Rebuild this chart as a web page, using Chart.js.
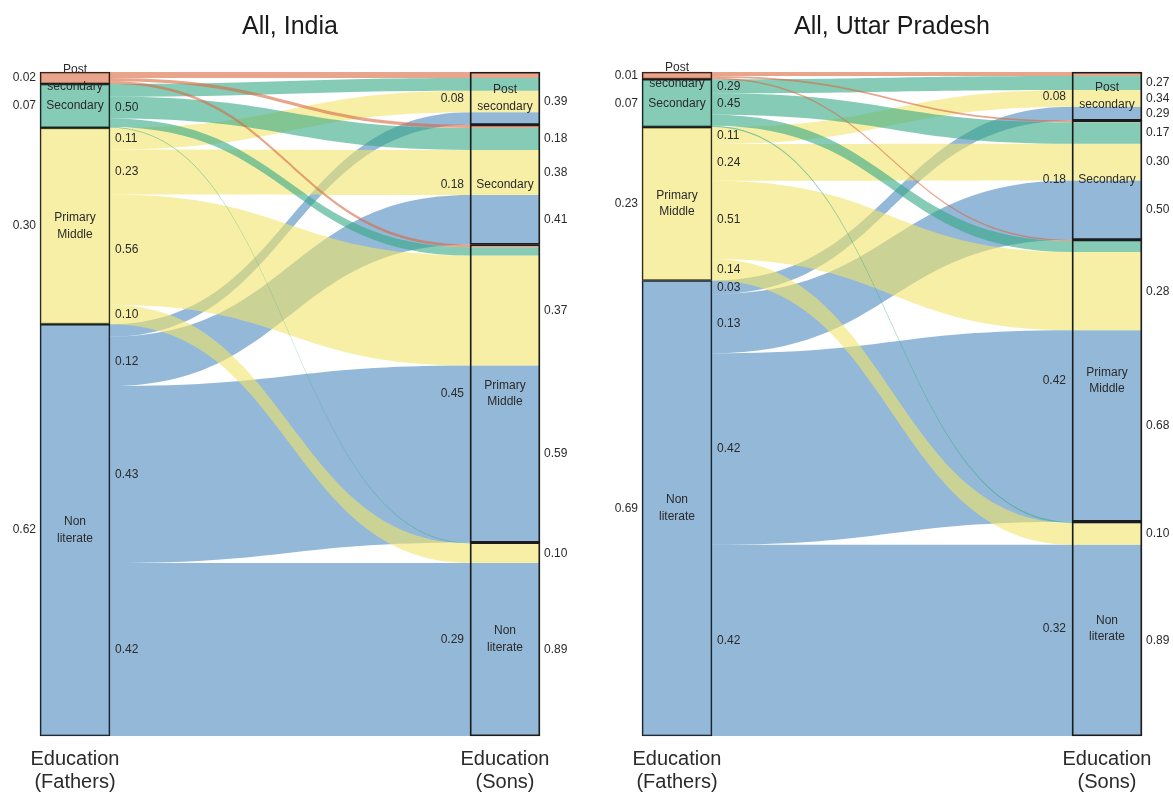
<!DOCTYPE html>
<html>
<head>
<meta charset="utf-8">
<script src="https://cdn.jsdelivr.net/npm/chart.js@4.4.0/dist/chart.umd.min.js"></script>
<style>
  body { margin: 0; background: #fff; width: 1173px; height: 792px; position: relative; overflow: hidden; }
  canvas { position: absolute; top: 0; }
  #india { left: 0; }
  #up { left: 602px; }
</style>
</head>
<body>
<canvas id="india" width="580" height="792"></canvas>
<canvas id="up" width="571" height="792"></canvas>
<script>
const FONT = '"Liberation Sans", Arial, Helvetica, sans-serif';

const categories = [['Post', 'secondary'], ['Secondary'], ['Primary', 'Middle'], ['Non', 'literate']];
const categoryColors = ['rgba(217,105,63,0.6)', 'rgba(53,168,133,0.6)', 'rgba(240,228,105,0.6)', 'rgba(77,137,188,0.6)'];
const axisLabels = [['Education', '(Fathers)'], ['Education', '(Sons)']];

// All, India
const indiaFathers = [0.018, 0.066, 0.296, 0.620];
const indiaSons = [0.08, 0.18, 0.45, 0.29];
// rows = father's education, columns = son's education
const indiaMobility = [
  [0.50, 0.28, 0.22, 0.00],
  [0.29, 0.50, 0.19, 0.02],
  [0.11, 0.23, 0.56, 0.10],
  [0.03, 0.12, 0.43, 0.42]
];
const indiaFatherFlowLabels = [
  [null, null, null, null],
  [null, '0.50', null, null],
  ['0.11', '0.23', '0.56', '0.10'],
  [null, '0.12', '0.43', '0.42']
];
// rows = son's education, columns = father's education
const indiaSonFlowLabels = [
  [null, null, '0.39', null],
  [null, '0.18', '0.38', '0.41'],
  [null, null, '0.37', '0.59'],
  [null, null, '0.10', '0.89']
];

// All, Uttar Pradesh
const upFathers = [0.011, 0.072, 0.231, 0.686];
const upSons = [0.08, 0.18, 0.42, 0.32];
const upMobility = [
  [0.55, 0.25, 0.18, 0.02],
  [0.29, 0.45, 0.23, 0.03],
  [0.11, 0.24, 0.51, 0.14],
  [0.03, 0.13, 0.42, 0.42]
];
const upFatherFlowLabels = [
  [null, null, null, null],
  ['0.29', '0.45', null, null],
  ['0.11', '0.24', '0.51', '0.14'],
  ['0.03', '0.13', '0.42', '0.42']
];
const upSonFlowLabels = [
  [null, '0.27', '0.34', '0.29'],
  [null, '0.17', '0.30', '0.50'],
  [null, null, '0.28', '0.68'],
  [null, null, '0.10', '0.89']
];

function cumulative(arr) {
  let s = 0;
  return arr.map(v => { const start = s; s += v; return start; });
}

function buildNodes(fathers, mobility) {
  const flows = fathers.map((f, i) => mobility[i].map(p => f * p));
  const fatherSize = flows.map(r => r.reduce((a, b) => a + b, 0));
  const sonSize = categories.map((c, j) => flows.reduce((a, r) => a + r[j], 0));
  const fatherStart = cumulative(fatherSize);
  const sonStart = cumulative(sonSize);
  // where each flow sits inside the father node and inside the son node
  const fatherPos = [], sonPos = [];
  const sonOff = sonStart.slice();
  for (let i = 0; i < flows.length; i++) {
    let off = fatherStart[i];
    fatherPos.push([]);
    sonPos.push([]);
    for (let j = 0; j < flows[i].length; j++) {
      fatherPos[i].push(off);
      off += flows[i][j];
      sonPos[i].push(sonOff[j]);
      sonOff[j] += flows[i][j];
    }
  }
  const total = fatherSize.reduce((a, b) => a + b, 0);
  return { flows, fatherSize, sonSize, fatherStart, sonStart, fatherPos, sonPos, total };
}

function columnEdges(chart, col) {
  const el = chart.getDatasetMeta(0).data[col];
  return [el.x - el.width / 2, el.x + el.width / 2, el.x];
}

function makeChart(id, title, fathers, mobility, fatherFlowLabels, sons, sonFlowLabels) {
  const canvas = document.getElementById(id);
  const nd = buildNodes(fathers, mobility);

  const datasets = categories.map((name, k) => ({
    label: name.join(' '),
    data: [
      { x: 0, y: [nd.fatherStart[k], nd.fatherStart[k] + nd.fatherSize[k]] },
      { x: 1, y: [nd.sonStart[k], nd.sonStart[k] + nd.sonSize[k]] }
    ],
    backgroundColor: [categoryColors[k], 'rgba(0,0,0,0)'],
    borderColor: '#1c1c1c',
    borderWidth: 1.2,
    borderSkipped: false,
    grouped: false,
    barThickness: 70,
    maxBarThickness: 70,
    barPercentage: 1,
    categoryPercentage: 1,
    clip: false
  }));

  const flowPlugin = {
    id: 'flows',
    beforeDatasetsDraw(chart) {
      const ctx = chart.ctx;
      const y = chart.scales.y;
      const [, fr] = columnEdges(chart, 0);
      const [sl, sr] = columnEdges(chart, 1);
      const mx = (fr + sl) / 2;
      ctx.save();
      // non literate first, so the smaller groups lie on top
      for (let i = nd.flows.length - 1; i >= 0; i--) {
        for (let j = 0; j < nd.flows[i].length; j++) {
          const v = nd.flows[i][j];
          if (v <= 0) continue;
          const a0 = y.getPixelForValue(nd.fatherPos[i][j]);
          const a1 = y.getPixelForValue(nd.fatherPos[i][j] + v);
          const b0 = y.getPixelForValue(nd.sonPos[i][j]);
          const b1 = y.getPixelForValue(nd.sonPos[i][j] + v);
          ctx.beginPath();
          ctx.moveTo(fr, a0);
          ctx.bezierCurveTo(mx, a0, mx, b0, sl, b0);
          ctx.lineTo(sr, b0);
          ctx.lineTo(sr, b1);
          ctx.lineTo(sl, b1);
          ctx.bezierCurveTo(mx, b1, mx, a1, fr, a1);
          ctx.closePath();
          ctx.fillStyle = categoryColors[i];
          ctx.fill();
        }
      }
      ctx.restore();
    }
  };

  const labelPlugin = {
    id: 'nodeLabels',
    afterDatasetsDraw(chart) {
      const ctx = chart.ctx;
      const y = chart.scales.y;
      const [fl, fr, fc] = columnEdges(chart, 0);
      const [sl, sr, sc] = columnEdges(chart, 1);
      ctx.save();
      ctx.font = '12px ' + FONT;
      ctx.fillStyle = '#2b2b2b';
      ctx.textBaseline = 'middle';

      for (let k = 0; k < categories.length; k++) {
        const fy = y.getPixelForValue(nd.fatherStart[k] + nd.fatherSize[k] / 2);
        const sy = y.getPixelForValue(nd.sonStart[k] + nd.sonSize[k] / 2);
        // shares
        ctx.textAlign = 'right';
        ctx.fillText(fathers[k].toFixed(2), fl - 4, fy);
        ctx.fillText(sons[k].toFixed(2), sl - 6, sy);
        // names inside the nodes
        ctx.textAlign = 'center';
        const lines = categories[k];
        lines.forEach((t, n) => {
          const dy = (n - (lines.length - 1) / 2) * 16.5;
          ctx.fillText(t, fc, fy + dy);
          ctx.fillText(t, sc, sy + dy);
        });
      }

      ctx.textAlign = 'left';
      for (let i = 0; i < nd.flows.length; i++) {
        for (let j = 0; j < nd.flows[i].length; j++) {
          const v = nd.flows[i][j];
          const fLab = fatherFlowLabels[i][j];
          if (fLab) ctx.fillText(fLab, fr + 5, y.getPixelForValue(nd.fatherPos[i][j] + v / 2));
          const sLab = sonFlowLabels[j][i];
          if (sLab) ctx.fillText(sLab, sr + 4, y.getPixelForValue(nd.sonPos[i][j] + v / 2));
        }
      }
      ctx.restore();
    }
  };

  return new Chart(canvas, {
    type: 'bar',
    data: { datasets },
    options: {
      responsive: false,
      animation: false,
      layout: { padding: { left: 75, right: canvas.width - 505, top: 0, bottom: -13 } },
      plugins: {
        legend: { display: false },
        tooltip: { enabled: false },
        title: {
          display: true,
          text: title,
          color: '#1a1a1a',
          font: { family: FONT, size: 25, weight: 'normal' },
          padding: { top: 12, bottom: 30 }
        }
      },
      scales: {
        x: {
          type: 'linear',
          min: 0,
          max: 1,
          offset: false,
          grid: { display: false, drawTicks: false },
          border: { display: false },
          afterBuildTicks: axis => { axis.ticks = [{ value: 0 }, { value: 1 }]; },
          ticks: {
            padding: 11.5,
            color: '#2a2a2a',
            maxRotation: 0,
            autoSkip: false,
            font: { family: FONT, size: 20, lineHeight: 1.15 },
            callback: v => (v === 0 ? axisLabels[0] : axisLabels[1])
          }
        },
        y: { type: 'linear', min: 0, max: nd.total, reverse: true, stacked: false, display: false }
      }
    },
    plugins: [flowPlugin, labelPlugin]
  });
}

makeChart('india', 'All, India', indiaFathers, indiaMobility, indiaFatherFlowLabels, indiaSons, indiaSonFlowLabels);
makeChart('up', 'All, Uttar Pradesh', upFathers, upMobility, upFatherFlowLabels, upSons, upSonFlowLabels);
</script>
</body>
</html>
